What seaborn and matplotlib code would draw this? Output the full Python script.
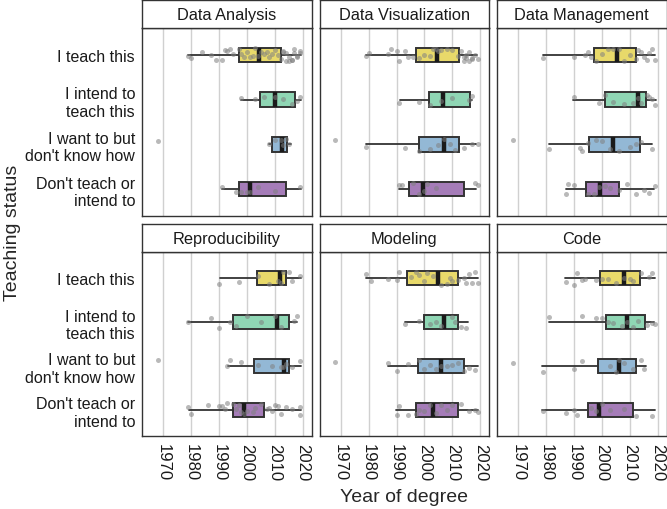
import matplotlib
matplotlib.use('Agg')
import matplotlib.pyplot as plt
import seaborn as sns
import pandas as pd
import numpy as np

sns.set_style('whitegrid')
plt.rcParams['font.family'] = ['Liberation Sans', 'DejaVu Sans']

np.random.seed(3)

statuses = ["I teach this", "I intend to\nteach this",
            "I want to but\ndon't know how", "Don't teach or\nintend to"]
panels = ['Data Analysis', 'Data Visualization', 'Data Management',
          'Reproducibility', 'Modeling', 'Code']
box_colors = ['#E8D96A', '#8FD6B4', '#93B8D5', '#A57CB8']
year_ticks = [1970, 1980, 1990, 2000, 2010, 2020]

# box stats per status: low whisker, Q1, median, Q3, high whisker
analysis_box = [[1978.7, 1997.0, 2004.3, 2012.0, 2019.4],
                [1998.0, 2004.5, 2010.2, 2017.3, 2019.4],
                [2007.9, 2009.0, 2012.6, 2014.4, 2015.6],
                [1991.2, 1997.0, 2001.0, 2014.0, 2019.4]]
visual_box = [[1979.0, 1996.8, 2004.6, 2012.2, 2018.9],
              [1991.1, 2001.5, 2006.5, 2016.2, 2016.9],
              [1979.2, 1998.2, 2007.1, 2012.2, 2018.6],
              [1990.9, 1994.4, 1999.6, 2014.1, 2018.6]]
manage_box = [[1978.9, 1997.0, 2005.5, 2012.1, 2018.9],
              [1989.5, 2001.2, 2013.0, 2015.9, 2019.2],
              [1981.0, 1995.5, 2004.0, 2013.5, 2018.0],
              [1987.2, 1994.3, 1999.4, 2006.1, 2018.8]]
repro_box = [[1990.2, 2003.7, 2011.7, 2014.0, 2019.2],
             [1978.9, 1994.9, 2010.7, 2015.2, 2017.9],
             [1993.2, 2002.5, 2013.1, 2015.2, 2019.4],
             [1979.2, 1994.9, 1998.9, 2006.2, 2019.4]]
model_box = [[1979.0, 1993.7, 2004.7, 2011.9, 2019.2],
             [1992.9, 1999.9, 2007.0, 2012.1, 2015.6],
             [1986.9, 1997.8, 2006.0, 2014.1, 2019.2],
             [1989.9, 1996.8, 2002.9, 2012.1, 2019.2]]
code_box = [[1986.9, 1999.3, 2008.0, 2013.5, 2018.9],
            [1981.0, 2001.3, 2008.9, 2015.4, 2018.8],
            [1978.6, 1998.6, 2006.1, 2012.1, 2015.9],
            [1978.6, 1994.9, 1999.0, 2011.1, 2018.9]]

# individual respondents (year of degree) per status
analysis_pts = [[1979, 1980, 1984, 1987, 1989, 1991, 1992, 1993, 1994, 1995, 1997, 1998,
                 1999, 2000, 2001, 2002, 2003, 2004, 2005, 2006, 2007, 2008, 2009, 2010,
                 2011, 2012, 2013, 2013, 2014, 2014, 2015, 2015, 2016, 2016, 2017, 2017,
                 2018, 2018, 2019, 2019],
                [1998, 2003, 2006, 2010, 2013, 2016, 2018, 2019],
                [1968, 2008, 2010, 2012, 2013, 2014, 2015],
                [1991, 1996, 1998, 2000, 2001, 2004, 2010, 2019]]
visual_pts = [[1979, 1980, 1987, 1988, 1990, 1991, 1993, 1994, 1996, 1998, 2000, 2002,
               2003, 2004, 2005, 2006, 2008, 2010, 2012, 2013, 2014, 2014, 2015, 2015,
               2016, 2016, 2017, 2017, 2018, 2019],
              [1991, 1998, 2002, 2006, 2010, 2016, 2017],
              [1968, 1979, 1993, 1998, 2002, 2005, 2007, 2009, 2011, 2014, 2017, 2019],
              [1991, 1992, 1996, 1998, 2000, 2001, 2004, 2018, 2019]]
manage_pts = [[1979, 1990, 1994, 1995, 1996, 1998, 2000, 2002, 2004, 2006, 2008, 2010,
               2012, 2013, 2014, 2015, 2016, 2017, 2018, 2019],
              [1990, 1999, 2001, 2004, 2008, 2011, 2013, 2014, 2016, 2017, 2018, 2019],
              [1968, 1981, 1992, 1993, 1995, 1998, 2000, 2003, 2006, 2010, 2012, 2014, 2018],
              [1987, 1988, 1990, 1995, 1997, 1999, 2001, 2003, 2006, 2009, 2012, 2015,
               2017, 2019]]
repro_pts = [[1990, 1997, 2004, 2008, 2011, 2012, 2013, 2015, 2016, 2019],
             [1979, 1987, 1990, 1994, 1996, 2000, 2005, 2010, 2012, 2017, 2018],
             [1968, 1993, 1994, 1998, 2004, 2009, 2012, 2013, 2014, 2016, 2019],
             [1979, 1980, 1986, 1990, 1991, 1992, 1993, 1995, 1996, 1997, 1998, 1999,
              2000, 2002, 2003, 2005, 2007, 2008, 2009, 2010, 2011, 2012, 2014, 2016,
              2019, 2019]]
model_pts = [[1979, 1981, 1987, 1990, 1991, 1995, 1997, 1998, 2000, 2001, 2003, 2006,
              2008, 2009, 2010, 2012, 2014, 2015, 2016, 2017, 2018, 2019],
             [1993, 1998, 2002, 2004, 2006, 2010, 2011, 2013, 2015],
             [1968, 1987, 1990, 1994, 1998, 2000, 2002, 2004, 2006, 2008, 2010, 2012,
              2014, 2016, 2018],
             [1990, 1991, 1994, 1997, 1998, 2000, 2002, 2004, 2006, 2008, 2010, 2013,
              2016, 2018, 2019]]
code_pts = [[1987, 1990, 1991, 1993, 1994, 1998, 2000, 2002, 2005, 2008, 2010, 2011,
             2014, 2017, 2018],
            [1981, 1993, 1998, 2000, 2002, 2004, 2007, 2009, 2011, 2013, 2016, 2018, 2019],
            [1968, 1979, 1990, 1993, 2003, 2005, 2006, 2008, 2011, 2014, 2015],
            [1979, 1987, 1990, 1991, 1996, 1998, 2000, 2003, 2008, 2012, 2018]]

all_boxes = [analysis_box, visual_box, manage_box, repro_box, model_box, code_box]
all_pts = [analysis_pts, visual_pts, manage_pts, repro_pts, model_pts, code_pts]

rows = []
for panel, pts in zip(panels, all_pts):
    for status, years in zip(statuses, pts):
        for y in years:
            rows.append({'panel': panel, 'status': status, 'year': y})
df = pd.DataFrame(rows)

W, H = 667, 510
fig = plt.figure(figsize=(W / 100, H / 100), dpi=100)

col_x = [142, 319.5, 497]
col_w = 169.5
row_top = [29, 253]
row_h = [188, 184]
strip_h = 28

edge = '#333333'
for i, panel in enumerate(panels):
    r, c = divmod(i, 3)
    ax = fig.add_axes([col_x[c] / W, 1 - (row_top[r] + row_h[r]) / H,
                       col_w / W, row_h[r] / H])
    stats = [dict(whislo=b[0], q1=b[1], med=b[2], q3=b[3], whishi=b[4], fliers=[])
             for b in all_boxes[i]]
    bp = ax.bxp(stats, positions=range(4), widths=0.32, orientation='horizontal',
                patch_artist=True, showcaps=False,
                boxprops=dict(edgecolor=edge, linewidth=1.4),
                whiskerprops=dict(color=edge, linewidth=1.3),
                medianprops=dict(color='#1a1a1a', linewidth=3.2, solid_capstyle='butt'))
    for patch, col in zip(bp['boxes'], box_colors):
        patch.set_facecolor(col)
        patch.set_zorder(2)
    sub = df[df.panel == panel]
    sns.stripplot(data=sub, x='year', y='status', order=statuses, color='#808080',
                  alpha=0.55, size=3.6, jitter=0.15, linewidth=0, ax=ax, zorder=3)

    ax.set_xlim(1962.4, 2023.1)
    ax.set_ylim(3.6, -0.6)
    ax.set_xticks(year_ticks)
    ax.set_yticks(range(4))
    ax.grid(axis='x', color='#d0d0d0', linewidth=1.0)
    ax.grid(axis='y', visible=False)
    ax.set_axisbelow(True)
    for s in ax.spines.values():
        s.set_color(edge)
        s.set_linewidth(1.0)
    ax.set_xlabel('')
    ax.set_ylabel('')
    ax.tick_params(axis='both', length=3, color=edge, width=0.8, pad=2,
                   labelcolor='#1a1a1a')
    if c == 0:
        ax.set_yticklabels(statuses, fontsize=11.5, ha='right', multialignment='right')
    else:
        ax.set_yticklabels([])
        ax.tick_params(axis='y', length=0)
    if r == 1:
        ax.set_xticklabels([str(t) for t in year_ticks], rotation=-90, fontsize=12,
                           va='top', ha='center')
    else:
        ax.set_xticklabels([])
        ax.tick_params(axis='x', length=0)

    sax = fig.add_axes([col_x[c] / W, 1 - row_top[r] / H, col_w / W, strip_h / H])
    sax.set_facecolor('white')
    sax.set_xticks([])
    sax.set_yticks([])
    sax.grid(False)
    for s in sax.spines.values():
        s.set_color(edge)
        s.set_linewidth(1.0)
    sax.text(0.5, 0.47, panel, ha='center', va='center', fontsize=11.8,
             color='#1a1a1a', transform=sax.transAxes)

fig.text(0.018, 1 - 233 / H, 'Teaching status', rotation=90, ha='center',
         va='center', fontsize=14)
fig.text(404 / W, 1 - 498 / H, 'Year of degree', ha='center', va='center',
         fontsize=14)

fig.savefig('out.png', dpi=100)
